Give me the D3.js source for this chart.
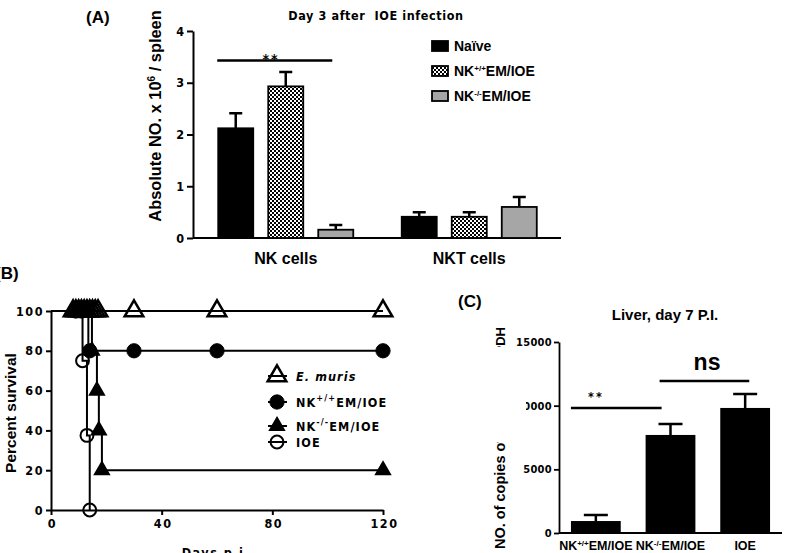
<!DOCTYPE html>
<html><head><meta charset="utf-8">
<script src="https://cdn.jsdelivr.net/npm/d3@7"></script>
<style>
body{margin:0;background:#fff}
svg{display:block}
</style></head>
<body>
<svg id="c" width="792" height="553"></svg>
<script>
// ---------- DATA ----------
// Panel A
const cellGroups = ["NK cells", "NKT cells"];
const seriesA = ["Naïve", "NK+/+EM/IOE", "NK-/-EM/IOE"];
const meanNK  = [2.12, 2.93, 0.16];
const errNK   = [0.29, 0.28, 0.09];
const meanNKT = [0.41, 0.41, 0.60];
const errNKT  = [0.09, 0.09, 0.19];
const ticksA  = [0, 1, 2, 3, 4];

// Panel B (Kaplan-Meier steps: [day, percent])
const daysTicks = [0, 40, 80, 120];
const survTicks = [0, 20, 40, 60, 80, 100];
const emurisPath = [[0,100],[120,100]];
const emurisMarks = [[8,100],[9,100],[10,100],[11,100],[12,100],[13,100],[14,100],[15,100],[16,100],[17,100],[30,100],[60,100],[120,100]];
const nkPosPath = [[0,100],[13.5,100],[13.5,80],[120,80]];
const nkPosMarks = [[9,100],[11,100],[14,80],[30,80],[60,80],[120,80]];
const nkNegPath = [[0,100],[14.8,100],[14.8,80],[16.6,80],[16.6,60],[17.3,60],[17.3,40],[18.4,40],[18.4,20],[120,20]];
const nkNegMarks = [[8,100],[9.5,100],[11,100],[12.5,100],[13.5,100],[14.8,80],[16.6,60],[17.3,40],[18.4,20],[120,20]];
const ioePath = [[0,100],[11.4,100],[11.4,75],[13,75],[13,37.5],[14,37.5],[14,0]];
const ioeMarks = [[11.4,75],[13,37.5],[14,0]];

// Panel C
const groupsC = ["NK+/+EM/IOE", "NK-/-EM/IOE", "IOE"];
const meanC = [940, 7700, 9820];
const errC  = [470, 860, 1100];
const ticksC = [0, 5000, 10000, 15000];

// ---------- DRAW ----------
const svg = d3.select("#c");
const BOLD = "'Liberation Sans', Arial, sans-serif";
const NARROW = "'Liberation Sans Narrow', 'Arial Narrow', 'DejaVu Sans Condensed', sans-serif";

const defs = svg.append("defs");
const pat = defs.append("pattern").attr("id","chk").attr("patternUnits","userSpaceOnUse")
  .attr("width",4).attr("height",4);
pat.append("rect").attr("width",4).attr("height",4).attr("fill","#fff");
pat.append("rect").attr("width",2).attr("height",2).attr("fill","#000");
pat.append("rect").attr("x",2).attr("y",2).attr("width",2).attr("height",2).attr("fill","#000");
const fillsA = ["#000", "url(#chk)", "#a6a6a6"];

// label with superscript: "NK" + sup + rest
function writeLabel(sel, name, supSize, lift){
  const m = name.match(/^NK([+\-]\/[+\-])(.*)$/);
  if(!m){ sel.text(name); return; }
  sel.append("tspan").text("NK");
  sel.append("tspan").attr("dy",-lift).attr("font-size",supSize).text(m[1]);
  sel.append("tspan").attr("dy",lift).text(m[2]);
}

// ===== Panel A =====
const gA = svg.append("g");
const yA = d3.scaleLinear().domain([0,4]).range([238,31]);
const x0 = d3.scaleBand().domain(cellGroups).range([194,561]).paddingInner(0.264).paddingOuter(0.132);
const x1 = d3.scaleBand().domain(seriesA).range([0,x0.bandwidth()]).paddingInner(0.3);
const dataA = cellGroups.flatMap((g,gi)=>seriesA.map((s,si)=>({g,s,si,
   v: gi===0?meanNK[si]:meanNKT[si], e: gi===0?errNK[si]:errNKT[si]})));

gA.append("g").attr("transform","translate(193,0)")
  .call(d3.axisLeft(yA).tickValues(ticksA).tickSize(6).tickSizeOuter(0).tickFormat(d3.format("d")))
  .call(a=>{a.select(".domain").attr("stroke-width",2);
            a.selectAll(".tick line").attr("stroke-width",2);
            a.selectAll(".tick text").attr("font-family",NARROW).attr("font-weight","bold").attr("font-size",12.5).attr("x",-9);});
gA.append("line").attr("x1",193).attr("x2",561).attr("y1",yA(0)).attr("y2",yA(0)).attr("stroke","#000").attr("stroke-width",2);

gA.selectAll("rect.bar").data(dataA).join("rect")
  .attr("x",d=>x0(d.g)+x1(d.s)).attr("width",x1.bandwidth())
  .attr("y",d=>yA(d.v)).attr("height",d=>yA(0)-yA(d.v))
  .attr("fill",d=>fillsA[d.si]).attr("stroke","#000").attr("stroke-width",1.8);
gA.selectAll("path.err").data(dataA).join("path")
  .attr("d",d=>{const cx=x0(d.g)+x1(d.s)+x1.bandwidth()/2;
     return `M${cx},${yA(d.v)}V${yA(d.v+d.e)}M${cx-6.5},${yA(d.v+d.e)}H${cx+6.5}`;})
  .attr("stroke","#000").attr("stroke-width",2.5).attr("fill","none");
gA.selectAll("text.cat").data(cellGroups).join("text")
  .attr("x",d=>x0(d)+x0.bandwidth()/2).attr("y",264).attr("text-anchor","middle")
  .attr("font-family",BOLD).attr("font-weight","bold").attr("font-size",16).text(d=>d);
gA.append("line").attr("x1",x0("NK cells")+x1(seriesA[0])-1).attr("x2",x0("NK cells")+x1(seriesA[2])+14)
  .attr("y1",yA(3.43)).attr("y2",yA(3.43)).attr("stroke","#000").attr("stroke-width",2.5);
gA.append("text").attr("x",271).attr("y",64).attr("text-anchor","middle").attr("font-family",NARROW)
  .attr("font-weight","bold").attr("font-size",14).attr("letter-spacing",2).text("**");
const ylA = gA.append("text").attr("transform","translate(161,116) rotate(-90)").attr("text-anchor","middle")
  .attr("font-family",BOLD).attr("font-weight","bold").attr("font-size",16.4);
ylA.append("tspan").text("Absolute NO. x 10");
ylA.append("tspan").attr("dy",-6).attr("font-size",10).text("6");
ylA.append("tspan").attr("dy",6).text(" / spleen");
gA.append("text").attr("x",376).attr("y",20).attr("text-anchor","middle").attr("font-family",NARROW)
  .attr("font-weight","bold").attr("font-size",12.5).attr("letter-spacing",0.6).attr("xml:space","preserve").text("Day 3 after  IOE infection");
gA.append("text").attr("x",86).attr("y",23).attr("font-family",BOLD).attr("font-weight","bold").attr("font-size",17).text("(A)");
const legA = gA.selectAll("g.leg").data(seriesA).join("g").attr("transform",(d,i)=>`translate(432,${46+i*25})`);
legA.append("rect").attr("x",0).attr("y",-5).attr("width",16).attr("height",10)
  .attr("fill",(d,i)=>fillsA[i]).attr("stroke","#000").attr("stroke-width",1.8);
legA.each(function(d){ const t=d3.select(this).append("text").attr("x",22).attr("y",5)
  .attr("font-family",BOLD).attr("font-weight","bold").attr("font-size",14);
  writeLabel(t,d,8,5); });

// ===== Panel B =====
const gB = svg.append("g");
const xB = d3.scaleLinear().domain([0,120]).range([51,383]);
const yB = d3.scaleLinear().domain([0,100]).range([510,311]);
const styleAxisB = a=>{a.select(".domain").attr("stroke-width",2);
  a.selectAll(".tick line").attr("stroke-width",2);
  a.selectAll(".tick text").attr("font-family",NARROW).attr("font-weight","bold").attr("font-size",12.5).attr("letter-spacing",1.5);};
gB.append("g").attr("transform","translate(51,0)")
  .call(d3.axisLeft(yB).tickValues(survTicks).tickSize(5).tickSizeOuter(0).tickFormat(d3.format("d"))).call(styleAxisB)
  .call(a=>a.selectAll(".tick text").attr("x",-7));
gB.append("g").attr("transform","translate(0,510)")
  .call(d3.axisBottom(xB).tickValues(daysTicks).tickSize(5).tickSizeOuter(0).tickFormat(d3.format("d"))).call(styleAxisB)
  .call(a=>a.selectAll(".tick text").attr("y",9).attr("dx",1));
const line = d3.line().x(d=>xB(d[0])).y(d=>yB(d[1]));
[emurisPath,nkPosPath,nkNegPath,ioePath].forEach(p=>{
  gB.append("path").attr("d",line(p)).attr("fill","none").attr("stroke","#000").attr("stroke-width",2);
});
const triBig = d3.symbol(d3.symbolTriangle,150)();
const triSmall = d3.symbol(d3.symbolTriangle,95)();
const circBig = d3.symbol(d3.symbolCircle,160)();
const circOpen = d3.symbol(d3.symbolCircle,130)();
function marks(data, path, fill, sw){
  gB.selectAll(null).data(data).join("path").attr("d",path)
    .attr("transform",d=>`translate(${xB(d[0])},${yB(d[1])})`)
    .attr("fill",fill).attr("stroke","#000").attr("stroke-width",sw);
}
marks(nkNegMarks, triSmall, "#000", 1.5);
marks(nkPosMarks, circBig, "#000", 1);
marks(emurisMarks, triBig, "none", 2.5);
marks(ioeMarks, circOpen, "none", 2);
gB.append("text").attr("x",-5).attr("y",279).attr("font-family",BOLD).attr("font-weight","bold").attr("font-size",17).text("(B)");
gB.append("text").attr("transform","translate(10,413) rotate(-90)").attr("text-anchor","middle").attr("dominant-baseline","central")
  .attr("font-family",BOLD).attr("font-weight","bold").attr("font-size",15.5).text("Percent survival");
gB.append("text").attr("x",216).attr("y",557).attr("text-anchor","middle").attr("font-family",NARROW)
  .attr("font-weight","bold").attr("font-size",12.5).attr("letter-spacing",1.5).text("Days p.i.");
const legB = [
  {name:"E. muris", sym:triBig, fill:"none", sw:2.5, y:376, it:true},
  {name:"NK+/+EM/IOE", sym:circBig, fill:"#000", sw:1, y:402},
  {name:"NK-/-EM/IOE", sym:triSmall, fill:"#000", sw:1.5, y:426},
  {name:"IOE", sym:circOpen, fill:"none", sw:2, y:442}];
legB.forEach(l=>{
  gB.append("line").attr("x1",268).attr("x2",287).attr("y1",l.y).attr("y2",l.y).attr("stroke","#000").attr("stroke-width",2);
  gB.append("path").attr("d",l.sym).attr("transform",`translate(277,${l.y})`).attr("fill",l.fill)
    .attr("stroke","#000").attr("stroke-width",l.sw);
  const t = gB.append("text").attr("x",296).attr("y",l.y+5).attr("font-family",NARROW).attr("font-weight","bold")
    .attr("font-size",12.5).attr("letter-spacing",1.1).attr("font-style",l.it?"italic":"normal");
  writeLabel(t,l.name,9,6);
});

// ===== Panel C =====
const gC = svg.append("g");
const yC = d3.scaleLinear().domain([0,15000]).range([533,342]);
const xC = d3.scaleBand().domain(groupsC).range([559,782]).paddingInner(0.333).paddingOuter(0.16);
gC.append("g").attr("transform","translate(559,0)")
  .call(d3.axisLeft(yC).tickValues(ticksC).tickSize(5).tickSizeOuter(0).tickFormat(d3.format("d")))
  .call(a=>{a.select(".domain").attr("stroke-width",1.8);a.selectAll(".tick line").attr("stroke-width",1.8);
    a.selectAll(".tick text").attr("font-family",NARROW).attr("font-weight","bold").attr("font-size",11).attr("letter-spacing",0.3).attr("x",-7);});
gC.append("line").attr("x1",559).attr("x2",782).attr("y1",yC(0)).attr("y2",yC(0)).attr("stroke","#000").attr("stroke-width",1.8);
gC.selectAll("rect.barc").data(groupsC).join("rect")
  .attr("x",d=>xC(d)).attr("width",xC.bandwidth()).attr("y",(d,i)=>yC(meanC[i])).attr("height",(d,i)=>yC(0)-yC(meanC[i]))
  .attr("fill","#000");
gC.selectAll("path.errc").data(groupsC).join("path")
  .attr("d",(d,i)=>{const cx=xC(d)+xC.bandwidth()/2, t=yC(meanC[i]+errC[i]);
     return `M${cx},${yC(meanC[i])}V${t}M${cx-12},${t}H${cx+12}`;})
  .attr("stroke","#000").attr("stroke-width",2.5).attr("fill","none");
gC.selectAll("text.catc").data(groupsC).join("text")
  .attr("x",d=>xC(d)+xC.bandwidth()/2).attr("y",550).attr("text-anchor","middle")
  .attr("font-family",BOLD).attr("font-weight","bold").attr("font-size",12.5)
  .each(function(d){ writeLabel(d3.select(this),d,8,4); });
gC.append("line").attr("x1",xC(groupsC[0])).attr("x2",xC(groupsC[1])+16).attr("y1",408).attr("y2",408).attr("stroke","#000").attr("stroke-width",2.5);
gC.append("text").attr("x",596).attr("y",401).attr("text-anchor","middle").attr("font-family",NARROW)
  .attr("font-weight","bold").attr("font-size",12.5).attr("letter-spacing",2).text("**");
gC.append("line").attr("x1",xC(groupsC[1])+14).attr("x2",xC(groupsC[2])+29).attr("y1",381).attr("y2",381).attr("stroke","#000").attr("stroke-width",2.5);
gC.append("text").attr("x",707).attr("y",370).attr("text-anchor","middle").attr("font-family",BOLD)
  .attr("font-weight","bold").attr("font-size",23).text("ns");
gC.append("text").attr("x",665).attr("y",320).attr("text-anchor","middle").attr("font-family",BOLD)
  .attr("font-weight","bold").attr("font-size",15).text("Liver, day 7 P.I.");
gC.append("text").attr("x",458).attr("y",307).attr("font-family",BOLD).attr("font-weight","bold").attr("font-size",17).text("(C)");
gC.append("text").attr("transform","translate(500,549) rotate(-90)").attr("dominant-baseline","central")
  .attr("font-family",BOLD).attr("font-weight","bold").attr("font-size",14.5).text("NO. of copies of");
gC.append("text").attr("transform","translate(500,327) rotate(-90)").attr("dominant-baseline","central").attr("text-anchor","end")
  .attr("font-family",BOLD).attr("font-weight","bold").attr("font-size",13).text("GAPDH");
gC.append("rect").attr("x",486).attr("y",347).attr("width",40).attr("height",95).attr("fill","#fff");
</script>
</body></html>
